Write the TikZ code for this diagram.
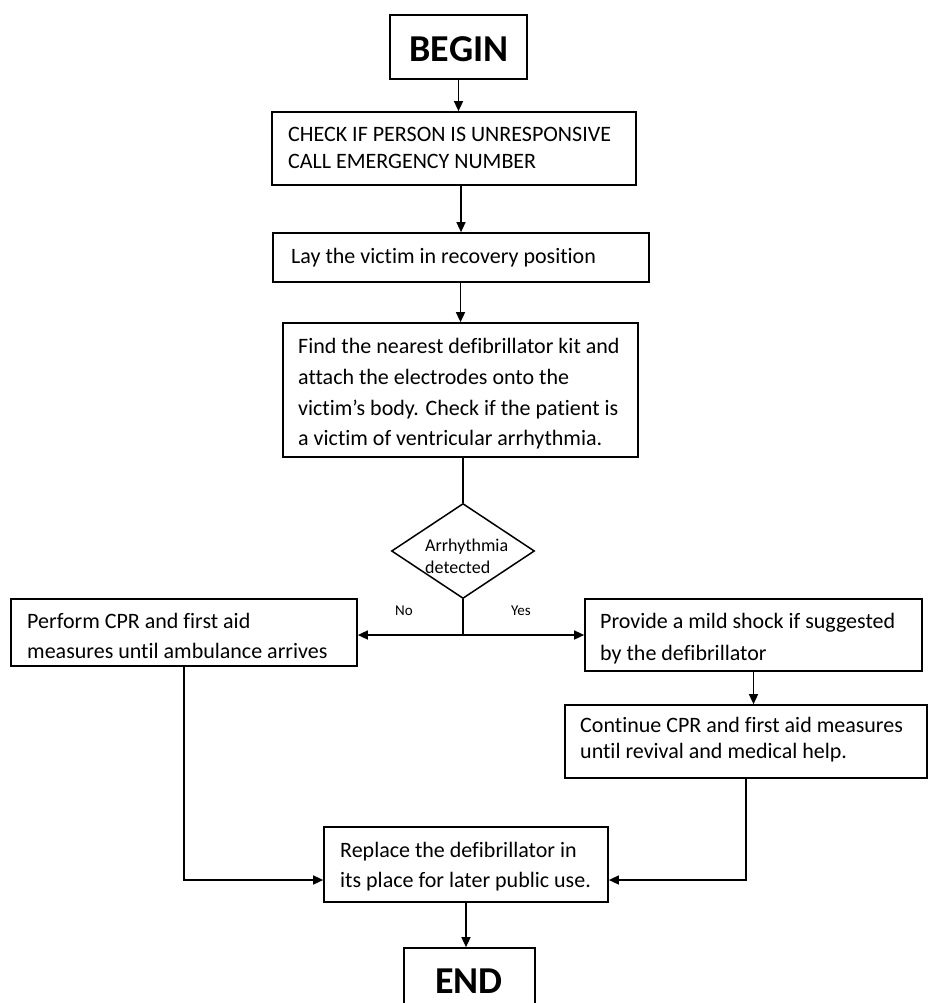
\documentclass[tikz,border=0pt]{standalone}
\usepackage{fontspec}
\setmainfont{Carlito}[Ligatures={NoCommon},Contextuals={NoAlternate}]
\usetikzlibrary{arrows.meta,calc,shapes.geometric}
\begin{document}
\begin{tikzpicture}[x=1pt,y=-1pt,
  box/.style={draw, line width=1.7pt, rectangle, inner sep=0pt},
  txt/.style={inner sep=0pt, anchor=base west, font=\fontsize{22}{26}\selectfont},
  small/.style={inner sep=0pt, anchor=base west, font=\fontsize{18}{22}\selectfont},
  lbl/.style={inner sep=0pt, anchor=base, font=\fontsize{15}{18}\selectfont},
  big/.style={inner sep=0pt, anchor=base, font=\fontsize{38}{44}\selectfont\bfseries},
  arr/.style={line width=1.5pt, -{Triangle[length=10pt,width=9pt]}},
  ln/.style={line width=1.5pt},
]
\useasboundingbox[fill=white] (0,0) rectangle (929,1003);
\clip (0,0) rectangle (929,1003);

% boxes
\node[box, minimum width=137pt, minimum height=64pt] (begin) at (458.5,47) {};
\node[big] (beginT) at (459,62) {BEGIN};

\node[box, minimum width=364pt, minimum height=73pt] (check) at (454,148.5) {};
\node[txt] (checkA) at (288,142) {CHECK IF PERSON IS UNRESPONSIVE};
\node[txt] (checkB) at (288,168) {CALL EMERGENCY NUMBER};

\node[box, minimum width=376pt, minimum height=49pt] (lay) at (461,257.5) {};
\node[txt] (layA) at (291,263) {Lay the victim in recovery position};

\node[box, minimum width=355pt, minimum height=134pt] (find) at (460.5,390) {};
\node[txt] (findA) at (298,353) {Find the nearest defibrillator kit and};
\node[txt] (findB) at (298,384) {attach the electrodes onto the};
\node[txt] (findC) at (298,415) {victim’s body. Check if the patient is};
\node[txt] (findD) at (298,445) {a victim of ventricular arrhythmia.};

\node[draw, diamond, line width=1.5pt, inner sep=0pt, minimum width=143pt, minimum height=95pt] (dec) at (463,551) {};
\node[small] (decA) at (425,551) {Arrhythmia};
\node[small] (decB) at (425,573) {detected};

\node[box, minimum width=346pt, minimum height=67pt] (perform) at (184,632.5) {};
\node[txt] (performA) at (27,628) {Perform CPR and first aid};
\node[txt] (performB) at (27,658) {measures until ambulance arrives};

\node[box, minimum width=337pt, minimum height=72pt] (provide) at (753.5,635) {};
\node[txt] (provideA) at (600,628) {Provide a mild shock if suggested};
\node[txt] (provideB) at (600,660) {by the defibrillator};

\node[box, minimum width=362pt, minimum height=73pt] (cont) at (746,741.5) {};
\node[txt] (contA) at (580,732) {Continue CPR and first aid measures};
\node[txt] (contB) at (580,758) {until revival and medical help.};

\node[box, minimum width=284pt, minimum height=75pt] (replace) at (466,864.5) {};
\node[txt] (replaceA) at (340,857) {Replace the defibrillator in};
\node[txt] (replaceB) at (340,887) {its place for later public use.};

\node[box, minimum width=131pt, minimum height=64pt] (end) at (469.5,980) {};
\node[big] (endT) at (469,993) {END};

\node[lbl] (no) at (404,615) {No};
\node[lbl] (yes) at (521,615) {Yes};

% connectors
\draw[arr] (begin.south) -- (begin.south |- check.north);
\draw[arr] (lay.north |- check.south) -- (lay.north);
\draw[arr] (find.north |- lay.south) -- (find.north);
\draw[ln] (dec.north |- find.south) -- (dec.north);
\coordinate (j) at (dec.south |- provide.west);
\draw[ln] (dec.south) -- (j);
\draw[arr] (j) -- (j -| perform.east);
\draw[arr] (j) -- (provide.west);
\draw[arr] (provide.south) -- (provide.south |- cont.north);
\draw[arr] (perform.south) |- ([yshift=-15.5pt]replace.west);
\draw[arr] (cont.south) |- ([yshift=-15.5pt]replace.east);
\draw[arr] (replace.south) -- (replace.south |- end.north);
\end{tikzpicture}
\end{document}
